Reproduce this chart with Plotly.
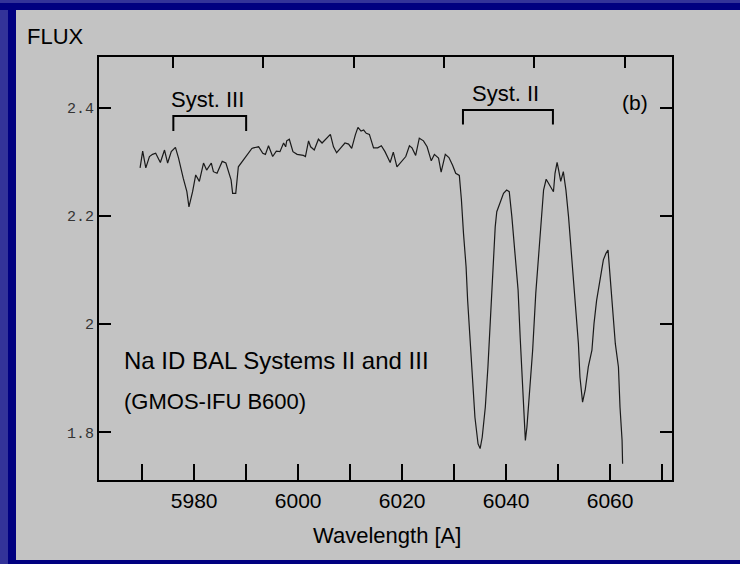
import plotly.graph_objects as go

# spectrum (wavelength in A, flux)
wavelength = [
    5969.6, 5970.1, 5970.7, 5971.4, 5972.0, 5972.6, 5973.5, 5974.3, 5974.9, 5975.6,
    5976.4, 5977.0, 5977.9, 5978.6, 5979.0, 5979.7, 5980.3, 5981.0, 5981.8, 5982.4,
    5983.3, 5983.7, 5984.4, 5985.0, 5985.4, 5986.1, 5986.6, 5987.1, 5987.4, 5988.0,
    5988.5, 5989.3, 5990.1, 5991.1, 5991.4, 5992.4, 5993.2, 5993.7, 5994.3, 5995.1,
    5995.8, 5996.5, 5997.2, 5997.6, 5997.8, 5998.3, 5999.0, 5999.8, 6001.0, 6001.4,
    6002.0, 6002.4, 6003.1, 6003.9, 6004.6, 6005.4, 6006.2, 6006.8, 6007.4, 6008.2,
    6009.0, 6009.7, 6010.3, 6011.0, 6011.5, 6012.1, 6012.6, 6013.1, 6013.7, 6014.5,
    6015.3, 6016.0, 6016.7, 6017.7, 6018.3, 6019.0, 6019.9, 6020.7, 6021.4, 6021.9,
    6022.6, 6023.3, 6024.1, 6024.8, 6025.6, 6026.2, 6027.0, 6027.5, 6028.3, 6029.0,
    6029.7, 6030.3, 6031.0, 6031.4, 6031.8, 6032.3, 6032.6, 6033.1, 6033.5, 6034.0,
    6034.6, 6035.0, 6035.4, 6036.0, 6036.5, 6036.9, 6037.4, 6037.9, 6038.2, 6038.9,
    6039.5, 6040.1, 6040.6, 6041.1, 6041.7, 6042.3, 6042.7, 6043.1, 6043.5, 6043.7,
    6044.0, 6044.6, 6045.1, 6045.7, 6046.4, 6046.9, 6047.2, 6047.7, 6048.3, 6049.1,
    6049.4, 6049.8, 6050.1, 6050.5, 6051.0, 6051.5, 6052.0, 6052.4, 6052.9, 6053.5,
    6053.9, 6054.2, 6054.7, 6055.2, 6055.8, 6056.5, 6056.9, 6057.4, 6058.1, 6058.7,
    6059.2, 6059.6, 6060.0, 6060.5, 6061.0, 6061.6, 6061.9, 6062.3, 6062.4,
]
flux = [
    2.289, 2.320, 2.289, 2.310, 2.314, 2.316, 2.299, 2.322, 2.298, 2.319,
    2.327, 2.307, 2.270, 2.245, 2.217, 2.245, 2.276, 2.264, 2.298, 2.285,
    2.298, 2.282, 2.279, 2.294, 2.301, 2.298, 2.282, 2.267, 2.242, 2.242,
    2.291, 2.301, 2.313, 2.325, 2.326, 2.328, 2.316, 2.314, 2.330, 2.310,
    2.320, 2.319, 2.335, 2.328, 2.339, 2.342, 2.319, 2.314, 2.312, 2.310,
    2.339, 2.328, 2.322, 2.342, 2.335, 2.344, 2.351, 2.328, 2.317, 2.326,
    2.335, 2.333, 2.325, 2.350, 2.364, 2.357, 2.359, 2.353, 2.351, 2.326,
    2.326, 2.330, 2.319, 2.299, 2.318, 2.291, 2.301, 2.310, 2.330, 2.326,
    2.312, 2.344, 2.339, 2.328, 2.302, 2.314, 2.307, 2.281, 2.314, 2.308,
    2.294, 2.279, 2.275, 2.230, 2.168, 2.106, 2.044, 1.964, 1.902, 1.828,
    1.779, 1.770, 1.791, 1.847, 1.921, 2.001, 2.088, 2.180, 2.208, 2.226,
    2.242, 2.248, 2.245, 2.199, 2.137, 2.063, 1.976, 1.890, 1.810, 1.785,
    1.810, 1.890, 1.952, 2.057, 2.149, 2.211, 2.248, 2.268, 2.257, 2.245,
    2.279, 2.299, 2.285, 2.264, 2.282, 2.248, 2.199, 2.149, 2.094, 2.026,
    1.964, 1.902, 1.856, 1.878, 1.921, 1.952, 2.001, 2.044, 2.088, 2.119,
    2.131, 2.137, 2.088, 2.026, 1.964, 1.921, 1.847, 1.785, 1.742,
]

x_ticks = [5970, 5980, 5990, 6000, 6010, 6020, 6030, 6040, 6050, 6060, 6070]
x_labels = ["", "5980", "", "6000", "", "6020", "", "6040", "", "6060", ""]
top_ticks = [5976.0, 5993.3, 6010.7, 6028.1, 6045.4, 6062.8]
y_ticks = [1.8, 2.0, 2.2, 2.4]
y_labels = ["1.8", "2", "2.2", "2.4"]

# absorption systems: name, blue edge, red edge, bracket top, bracket foot
systems = [
    ("Syst. III", 5976.0, 5990.0, 2.385, 2.357),
    ("Syst. II", 6031.7, 6049.0, 2.396, 2.369),
]

W, H = 740, 564
L, R, T, B = 99, 68, 57, 84
PW, PH = W - L - R, H - T - B


def px(x):
    return (x - L) / PW


def py(y):
    return (H - B - y) / PH


FONT = "Liberation Sans, Arial, sans-serif"
GRAY = "#c3c3c3"
NAVY = "#000080"
LBLUE = "#333399"

fig = go.Figure()
fig.add_trace(go.Scatter(x=wavelength, y=flux, mode="lines",
                         line=dict(color="#1a1a1a", width=1.2),
                         showlegend=False, hoverinfo="skip"))
# dummy trace so the top tick axis gets drawn
fig.add_trace(go.Scatter(x=[wavelength[0]], y=[flux[0]], xaxis="x2", mode="none",
                         showlegend=False, hoverinfo="skip"))

shapes = [
    dict(type="rect", xref="paper", yref="paper", x0=px(0), x1=px(16), y0=py(0), y1=py(H),
         fillcolor=NAVY, line_width=0, layer="above"),
    dict(type="rect", xref="paper", yref="paper", x0=px(0), x1=px(8), y0=py(0), y1=py(H),
         fillcolor=LBLUE, line_width=0, layer="above"),
    dict(type="rect", xref="paper", yref="paper", x0=px(0), x1=px(W), y0=py(0), y1=py(10),
         fillcolor=NAVY, line_width=0, layer="above"),
    dict(type="rect", xref="paper", yref="paper", x0=px(0), x1=px(W), y0=py(0), y1=py(3),
         fillcolor=LBLUE, line_width=0, layer="above"),
    dict(type="rect", xref="paper", yref="paper", x0=px(8), x1=px(W), y0=py(560), y1=py(H),
         fillcolor=NAVY, line_width=0, layer="above"),
]
annotations = []
for name, x0, x1, ytop, yfoot in systems:
    shapes.append(dict(type="path", xref="x", yref="y",
                       path=f"M {x0},{yfoot} L {x0},{ytop} L {x1},{ytop} L {x1},{yfoot}",
                       line=dict(color="black", width=2)))
    annotations.append(dict(x=(x0 + x1) / 2 - 0.5, y=ytop + 0.031, xref="x", yref="y",
                            text=name, showarrow=False, xanchor="center", yanchor="middle",
                            font=dict(family=FONT, size=22, color="black")))

annotations += [
    dict(x=6064.7, y=2.41, xref="x", yref="y", text="(b)", showarrow=False,
         xanchor="center", yanchor="middle", font=dict(family=FONT, size=21, color="black")),
    dict(x=px(25), y=py(37), xref="paper", yref="paper", text="FLUX", showarrow=False,
         xanchor="left", yanchor="middle", font=dict(family=FONT, size=22, color="black")),
    dict(x=px(122), y=py(360), xref="paper", yref="paper", text="Na ID BAL Systems II and III",
         showarrow=False, xanchor="left", yanchor="middle",
         font=dict(family=FONT, size=24, color="black")),
    dict(x=px(122), y=py(401), xref="paper", yref="paper", text="(GMOS-IFU B600)",
         showarrow=False, xanchor="left", yanchor="middle",
         font=dict(family=FONT, size=22, color="black")),
    dict(x=px(387), y=py(535), xref="paper", yref="paper", text="Wavelength [A]",
         showarrow=False, xanchor="center", yanchor="middle",
         font=dict(family=FONT, size=22, color="black")),
]

fig.update_layout(
    width=W, height=H,
    margin=dict(l=L, r=R, t=T, b=B, pad=0),
    paper_bgcolor=GRAY, plot_bgcolor=GRAY,
    showlegend=False,
    shapes=shapes,
    annotations=annotations,
    xaxis=dict(range=[5961.7, 6071.9], tickvals=x_ticks, ticktext=x_labels,
               ticks="inside", ticklen=16, tickwidth=2, tickcolor="black",
               showline=True, linecolor="black", linewidth=2, mirror=True,
               showgrid=False, zeroline=False, ticklabelstandoff=1,
               tickfont=dict(family=FONT, size=21, color="black")),
    xaxis2=dict(range=[5961.7, 6071.9], overlaying="x", side="top", anchor="y",
                tickvals=top_ticks, ticks="inside", ticklen=11, tickwidth=2,
                tickcolor="black", showticklabels=False, showline=False,
                showgrid=False, zeroline=False),
    yaxis=dict(range=[1.712, 2.494], tickvals=y_ticks, ticktext=y_labels,
               ticks="inside", ticklen=12, tickwidth=2, tickcolor="black",
               showline=True, linecolor="black", linewidth=2, mirror="ticks",
               showgrid=False, zeroline=False, ticklabelstandoff=0,
               tickfont=dict(family="Liberation Mono, Courier New, monospace",
                             size=15, color="#333333")),
)

fig.write_html("out.html", config={"displayModeBar": False},
               post_script="document.body.style.margin='0px';")
